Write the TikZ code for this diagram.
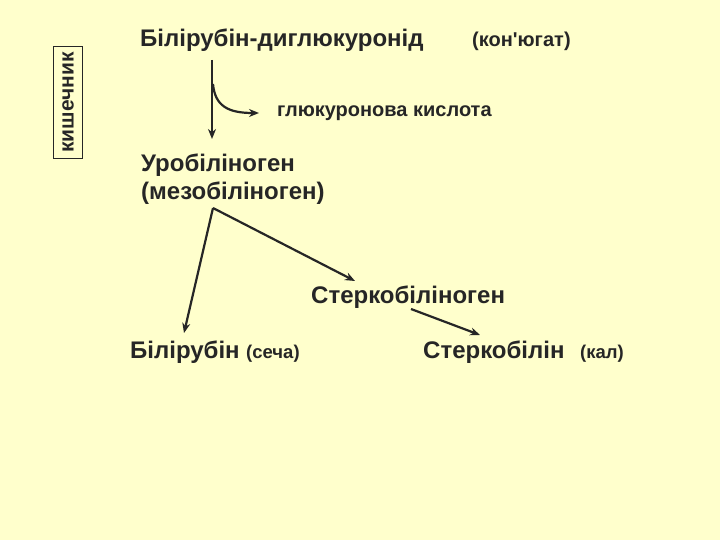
\documentclass[tikz,border=0pt]{standalone}
\usepackage{fontspec}
\setmainfont{Liberation Sans}
\usetikzlibrary{arrows.meta}
\definecolor{bg}{HTML}{FFFFCC}
\definecolor{ink}{HTML}{262626}
\tikzset{
  lbl/.style={anchor=base west, inner sep=0pt, text=ink, font=\bfseries\fontsize{24}{28}\selectfont},
  small/.style={lbl, font=\bfseries\fontsize{20}{24}\selectfont},
  paren/.style={lbl, font=\bfseries\fontsize{18.5}{22}\selectfont},
  arr/.style={draw=ink, line width=2.2pt, -{Stealth[length=10pt,width=8pt]}}
}
\begin{document}
\begin{tikzpicture}[x=1pt,y=-1pt]
\fill[bg] (0,0) rectangle (720,540);
\useasboundingbox (0,0) rectangle (720,540);
\node[lbl] (bdg) at (140,47) {Білірубін-диглюкуронід};
\node[small] (kon) at (472,47) {(кон\textquotesingle югат)};
\node[small] (gk) at (277,117) {глюкуронова кислота};
\node[lbl] (uro) at (141,172) {Уробіліноген};
\node[lbl] (mezo) at (141,200) {(мезобіліноген)};
\node[lbl] (stbg) at (311,303) {Стеркобіліноген};
\node[lbl] (bil) at (130,358) {Білірубін};
\node[paren] (sech) at (246,358) {(сеча)};
\node[lbl] (stb) at (423,358) {Стеркобілін};
\node[paren] (kal) at (580,358) {(кал)};
\node[draw=ink, line width=0.8pt, rotate=90, inner xsep=6pt, inner ysep=8.5pt, text=ink, font=\bfseries\fontsize{21}{24}\selectfont] (kish) at (68,102.5) {кишечник};
\coordinate (v1) at (212,60);
\coordinate (v2) at (212,139);
\coordinate (c1) at (213,84);
\coordinate (c2) at (259,113);
\coordinate (fork) at (213,208);
\coordinate (tb) at (184,333);
\coordinate (ts) at (355,281);
\coordinate (s1) at (411,309);
\coordinate (s2) at (480,335);
\draw[arr] (v1) -- (v2);
\draw[arr] (c1) .. controls (215,106) and (228,113) .. (c2);
\draw[arr] (fork) -- (tb);
\draw[arr] (fork) -- (ts);
\draw[arr] (s1) -- (s2);
\end{tikzpicture}
\end{document}
